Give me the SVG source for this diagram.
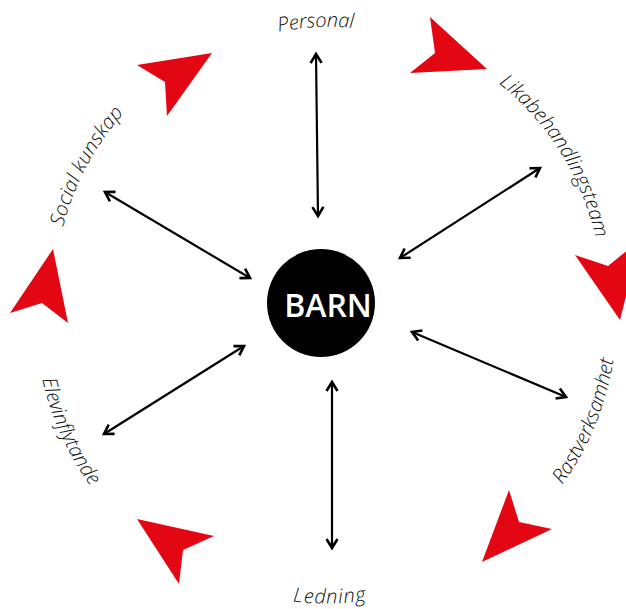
<svg xmlns="http://www.w3.org/2000/svg" xmlns:xlink="http://www.w3.org/1999/xlink" width="626" height="609" viewBox="0 0 626 609">
<style>
.lbl{font-family:"Open Sans","Liberation Sans",sans-serif;font-style:italic;font-weight:300;font-size:20px;fill:#111}
.conn{stroke:#000;stroke-width:2.2;fill:none;marker-start:url(#ah);marker-end:url(#ah)}
.dart{fill:#e30613}
</style>
<defs>
<marker id="ah" markerUnits="userSpaceOnUse" markerWidth="16" markerHeight="16" viewBox="-12 -8 16 16" refX="0" refY="0" orient="auto-start-reverse">
<path d="M-9,-5.5 L0,0 L-9,5.5" fill="none" stroke="#000" stroke-width="2.6" stroke-linejoin="miter"/>
</marker>
<path id="topArc" d="M60,297 A270,270 0 1 1 600,297 A270,270 0 1 1 60,297"/>
<path id="botArc" d="M35,315 A291,291 0 1 0 617,315 A291,291 0 1 0 35,315"/>
</defs>
<rect width="626" height="609" fill="#fff"/>
<g id="darts">
<polygon class="dart" points="137,65 212,53 167,116 165,82"/>
<polygon class="dart" points="430,17 487,69 410,73 435,53"/>
<polygon class="dart" points="575,255 608,266 640,240 620,320"/>
<polygon class="dart" points="509,490 519,522 552,529 482,562"/>
<polygon class="dart" points="137,519 214,536 183,550 179,584"/>
<polygon class="dart" points="53,249 68,323 42,303 10,313"/>
</g>
<g id="connectors">
<line class="conn" x1="316" y1="54" x2="318" y2="216"/>
<line class="conn" x1="540" y1="168" x2="400" y2="258"/>
<line class="conn" x1="412" y1="332" x2="566" y2="397"/>
<line class="conn" x1="332" y1="382" x2="332" y2="548"/>
<line class="conn" x1="244" y1="346" x2="104" y2="434"/>
<line class="conn" x1="105" y1="192" x2="250" y2="278"/>
</g>
<g id="barn">
<circle cx="321" cy="303" r="54" fill="#000"/>
<text x="328" y="317" text-anchor="middle" font-family="'Open Sans','Liberation Sans',sans-serif" font-weight="600" font-size="32" fill="#fff">BARN</text>
</g>
<g id="personal"><text class="lbl" text-anchor="middle" font-size="19"><textPath xlink:href="#topArc" startOffset="410">Personal</textPath></text></g>
<g id="social"><text class="lbl" text-anchor="middle" dy="-6"><textPath xlink:href="#topArc" startOffset="133">Social kunskap</textPath></text></g>
<g id="lika"><text class="lbl" text-anchor="middle" dy="-2"><textPath xlink:href="#topArc" startOffset="697">Likabehandlingsteam</textPath></text></g>
<g id="elev"><text class="lbl" text-anchor="middle"><textPath xlink:href="#botArc" startOffset="124">Elevinflytande</textPath></text></g>
<g id="ledning"><text class="lbl" text-anchor="middle" dy="-2.5" letter-spacing="1"><textPath xlink:href="#botArc" startOffset="461">Ledning</textPath></text></g>
<g id="rast"><text class="lbl" text-anchor="middle"><textPath xlink:href="#botArc" startOffset="801">Rastverksamhet</textPath></text></g>
</svg>
